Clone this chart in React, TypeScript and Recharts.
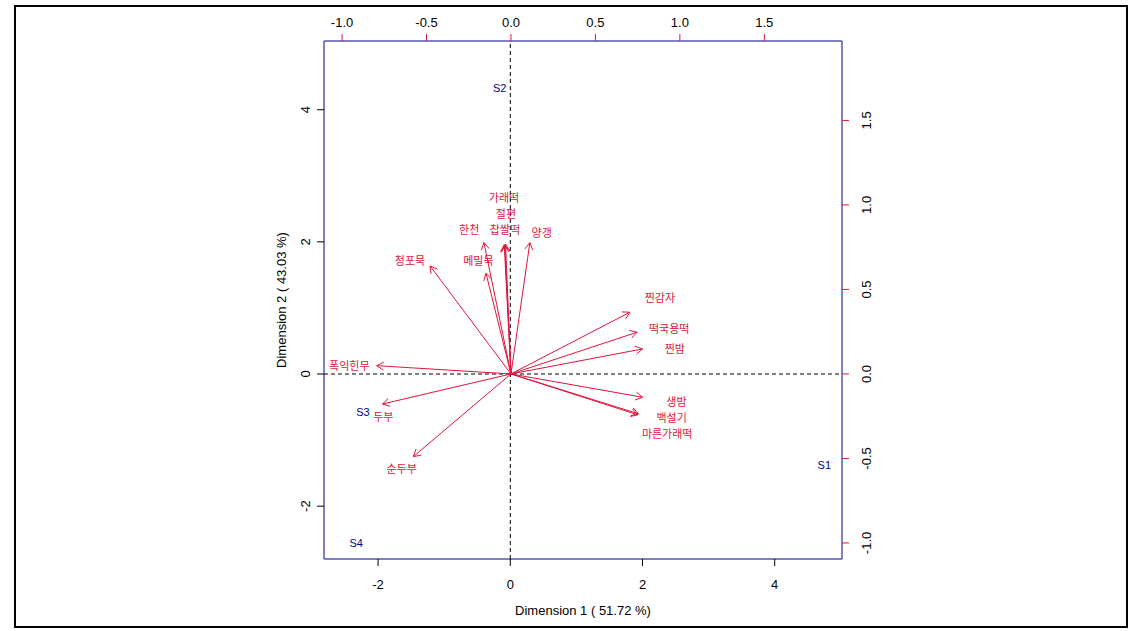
import React from 'react'
import { ScatterChart, Scatter, XAxis, YAxis, ReferenceLine, Label } from 'recharts'

// row scores (primary axes)
const sampleNames = ['S1', 'S2', 'S3', 'S4']
const sampleX = [4.75, -0.16, -2.23, -2.33]
const sampleY = [-1.38, 4.33, -0.57, -2.56]

// column loadings (secondary axes): arrow tips and label anchors
const foodNames = ['가래떡', '절편', '찹쌀떡', '한천', '양갱', '메밀묵', '청포묵', '폭익힌무', '두부', '순두부', '찐감자', '떡국용떡', '찐밤', '생밤', '백설기', '마른가래떡']
const arrowX = [-0.04, -0.036, -0.032, -0.16, 0.112, -0.148, -0.479, -0.795, -0.761, -0.578, 0.704, 0.747, 0.779, 0.779, 0.755, 0.751]
const arrowY = [0.765, 0.762, 0.768, 0.777, 0.777, 0.596, 0.639, 0.049, -0.178, -0.489, 0.365, 0.247, 0.148, -0.138, -0.236, -0.242]
const labelX = [-0.041, -0.03, -0.036, -0.247, 0.182, -0.193, -0.598, -0.957, -0.756, -0.647, 0.882, 0.937, 0.97, 0.98, 0.951, 0.925]
const labelY = [1.04, 0.947, 0.852, 0.852, 0.836, 0.67, 0.67, 0.047, -0.253, -0.564, 0.448, 0.266, 0.148, -0.167, -0.259, -0.355]

const dim1Ticks = [-2, 0, 2, 4]
const dim2Ticks = [-2, 0, 2, 4]
const secTicks = [-1, -0.5, 0, 0.5, 1, 1.5]

const RED = '#e0143c'
const NAVY = '#00008b'
const FONT = '"Liberation Sans", Arial, "Noto Sans CJK KR", sans-serif'

const samples = sampleNames.map((name, i) => ({ x: sampleX[i], y: sampleY[i], name }))
const foodLabels = foodNames.map((name, i) => ({ x: labelX[i], y: labelY[i], name }))
const arrows = foodNames.map((name, i) => [
  { x: 0, y: 0, tip: false, name },
  { x: arrowX[i], y: arrowY[i], tip: true, name },
])

function ArrowHead(props: any) {
  const { cx, cy, payload } = props
  if (!payload?.tip) return <g />
  // both secondary axes share the same px/unit, so data direction = pixel direction
  const ang = Math.atan2(-payload.y, payload.x)
  const len = 8
  const a1 = ang + Math.PI - Math.PI / 6
  const a2 = ang + Math.PI + Math.PI / 6
  const d = `M${cx + len * Math.cos(a1)},${cy + len * Math.sin(a1)}L${cx},${cy}L${cx + len * Math.cos(a2)},${cy + len * Math.sin(a2)}`
  return <path d={d} fill="none" stroke={RED} strokeWidth={1} />
}

function TextMark(color: string) {
  return (props: any) => (
    <text x={props.cx} y={props.cy} textAnchor="middle" dominantBaseline="central" fontSize={11} fill={color} fontFamily={FONT}>
      {props.payload.name}
    </text>
  )
}

const fmt1 = (v: number) => v.toFixed(1)

function BottomTick({ x, y, payload }: any) {
  return <text x={x} y={y + 18} textAnchor="middle" dominantBaseline="central" fontSize={13} fill="#000" fontFamily={FONT}>{payload.value}</text>
}
function TopTick({ x, y, payload }: any) {
  return <text x={x} y={y - 12} textAnchor="middle" dominantBaseline="central" fontSize={13} fill="#000" fontFamily={FONT}>{fmt1(payload.value)}</text>
}
function LeftTick({ x, y, payload }: any) {
  return <text transform={`translate(${x - 12},${y}) rotate(-90)`} textAnchor="middle" dominantBaseline="central" fontSize={13} fill="#000" fontFamily={FONT}>{payload.value}</text>
}
function RightTick({ x, y, payload }: any) {
  return <text transform={`translate(${x + 17},${y}) rotate(-90)`} textAnchor="middle" dominantBaseline="central" fontSize={13} fill="#000" fontFamily={FONT}>{fmt1(payload.value)}</text>
}

export default function App() {
  return (
    <div style={{ position: 'absolute', left: 0, top: 0, width: 1138, height: 631, background: '#fff' }}>
      <div style={{ position: 'absolute', left: 14, top: 5, width: 1114, height: 623, border: '2px solid #000', boxSizing: 'border-box' }} />
      <div style={{ position: 'absolute', left: 0, top: 0 }}>
        <ScatterChart width={1138} height={631} margin={{ top: 11, right: 236, bottom: 42, left: 264 }}>
          <XAxis xAxisId="b" type="number" dataKey="x" orientation="bottom" domain={[-2.818, 5.018]} ticks={dim1Ticks}
            allowDataOverflow height={30} tickSize={7} tickMargin={0} tickLine={{ stroke: '#000' }}
            axisLine={{ stroke: NAVY, strokeWidth: 1 }} tick={<BottomTick />}>
            <Label content={({ viewBox }: any) => (
              <text x={viewBox.x + viewBox.width / 2} y={viewBox.y + 51} textAnchor="middle" dominantBaseline="central" fontSize={13} fontFamily={FONT}>Dimension 1 ( 51.72 %)</text>
            )} />
          </XAxis>
          <XAxis xAxisId="t" type="number" dataKey="x" orientation="top" domain={[-1.107, 1.96]} ticks={secTicks}
            allowDataOverflow height={30} tickSize={7} tickMargin={0} tickLine={{ stroke: RED }}
            axisLine={{ stroke: NAVY, strokeWidth: 1 }} tick={<TopTick />} />
          <YAxis yAxisId="l" type="number" dataKey="y" orientation="left" domain={[-2.8, 5.04]} ticks={dim2Ticks}
            allowDataOverflow width={60} tickSize={7} tickMargin={0} tickLine={{ stroke: '#000' }}
            axisLine={{ stroke: NAVY, strokeWidth: 1 }} tick={<LeftTick />}>
            <Label content={({ viewBox }: any) => (
              <text transform={`translate(${viewBox.x + 17},${viewBox.y + viewBox.height / 2}) rotate(-90)`} textAnchor="middle" dominantBaseline="central" fontSize={13} fontFamily={FONT}>Dimension 2 ( 43.03 %)</text>
            )} />
          </YAxis>
          <YAxis yAxisId="r" type="number" dataKey="y" orientation="right" domain={[-1.095, 1.97]} ticks={secTicks}
            allowDataOverflow width={60} tickSize={7} tickMargin={0} tickLine={{ stroke: RED }}
            axisLine={{ stroke: NAVY, strokeWidth: 1 }} tick={<RightTick />} />

          <ReferenceLine xAxisId="b" yAxisId="l" x={0} stroke="#000" strokeDasharray="4 3" />
          <ReferenceLine xAxisId="b" yAxisId="l" y={0} stroke="#000" strokeDasharray="4 3" />

          {arrows.map((data, i) => (
            <Scatter key={i} xAxisId="t" yAxisId="r" data={data} line={{ stroke: RED, strokeWidth: 1 }}
              lineJointType="linear" shape={<ArrowHead />} isAnimationActive={false} />
          ))}
          <Scatter xAxisId="t" yAxisId="r" data={foodLabels} shape={TextMark(RED)} isAnimationActive={false} />
          <Scatter xAxisId="b" yAxisId="l" data={samples} shape={TextMark(NAVY)} isAnimationActive={false} />
        </ScatterChart>
      </div>
    </div>
  )
}
